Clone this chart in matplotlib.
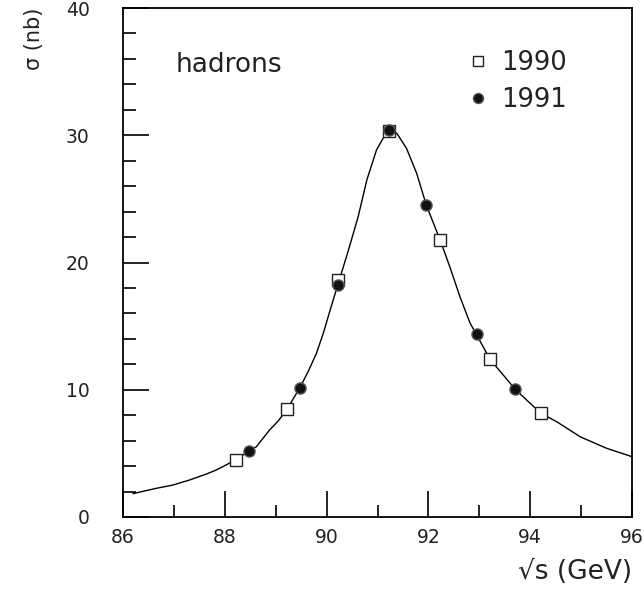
import matplotlib
matplotlib.use("Agg")
import matplotlib.pyplot as plt
from matplotlib.ticker import MultipleLocator

# --- data ---
x_1990 = [88.22, 89.23, 90.23, 91.22, 92.22, 93.21, 94.21]
y_1990 = [4.5, 8.5, 18.6, 30.3, 21.8, 12.4, 8.2]

x_1991 = [88.48, 89.47, 90.22, 91.23, 91.96, 92.96, 93.71]
y_1991 = [5.2, 10.1, 18.2, 30.4, 24.5, 14.4, 10.05]

fit_x = [86.2, 86.65, 86.98, 87.31, 87.64, 87.83, 87.96, 88.23, 88.48, 88.62,
         88.88, 89.05, 89.22, 89.48, 89.64, 89.80, 89.94, 90.07, 90.23, 90.43,
         90.62, 90.79, 90.98, 91.11, 91.25, 91.38, 91.57, 91.77, 91.96, 92.10,
         92.23, 92.42, 92.62, 92.82, 92.95, 93.21, 93.47, 93.70, 94.0, 94.21,
         94.52, 94.98, 95.5, 96.0]
fit_y = [1.84, 2.25, 2.51, 2.91, 3.38, 3.69, 3.95, 4.53, 5.2, 5.52,
         6.84, 7.55, 8.45, 10.2, 11.45, 12.86, 14.5, 16.27, 18.37, 20.98,
         23.6, 26.48, 28.84, 29.76, 30.4, 30.15, 28.97, 27.0, 24.5, 23.08,
         21.77, 19.67, 17.31, 15.22, 14.3, 12.39, 11.16, 10.06, 8.93, 8.15,
         7.49, 6.31, 5.4, 4.74]

x_ticks = [86, 88, 90, 92, 94, 96]
y_ticks = [0, 10, 20, 30, 40]

plt.rcParams['font.family'] = ['DejaVu Sans']

fig = plt.figure(figsize=(6.44, 5.96), dpi=100)
ax = fig.add_axes([123/644, 1 - 517/596, 509/644, 509/596])

ax.plot(fit_x, fit_y, color='black', lw=1.0, zorder=2)
ax.plot(x_1990, y_1990, ls='none', marker='s', ms=8, mfc='white', mec='#222222',
        mew=1.0, label='1990', zorder=3)
ax.plot(x_1991, y_1991, ls='none', marker='o', ms=8, mfc='#111111', mec='#555555',
        mew=1.0, label='1991', zorder=4)

ax.set_xlim(86, 96)
ax.set_ylim(0, 40)
ax.set_xticks(x_ticks)
ax.set_yticks(y_ticks)
ax.xaxis.set_minor_locator(MultipleLocator(1))
ax.yaxis.set_minor_locator(MultipleLocator(2))
ax.tick_params(which='major', direction='in', length=19, width=1.2, labelsize=13.5,
               labelcolor='#222222', top=False, right=False)
ax.tick_params(which='minor', direction='in', length=9, width=1.2,
               top=False, right=False)
ax.tick_params(axis='y', which='major', pad=24)
ax.tick_params(axis='x', which='major', pad=8)
for s in ax.spines.values():
    s.set_linewidth(1.3)

ax.set_xlabel('√s (GeV)', fontsize=19, loc='right', color='#222222')
ax.xaxis.set_label_coords(1.0, -0.082)
ax.set_ylabel('σ (nb)', fontsize=15, loc='top', color='#222222')
ax.yaxis.set_label_coords(-0.155, 1.0)

ax.text(0.103, 0.888, 'hadrons', transform=ax.transAxes, fontsize=19,
        va='center', ha='left', color='#222222')

leg = ax.legend(loc='upper left', bbox_to_anchor=(0.668, 0.927), frameon=False,
                fontsize=18.5, handlelength=0.8, handletextpad=0.5,
                labelspacing=0.42, numpoints=1, markerscale=0.9,
                borderaxespad=0.0, borderpad=0.2)
for t in leg.get_texts():
    t.set_color('#222222')

fig.savefig('out.png', dpi=100)
